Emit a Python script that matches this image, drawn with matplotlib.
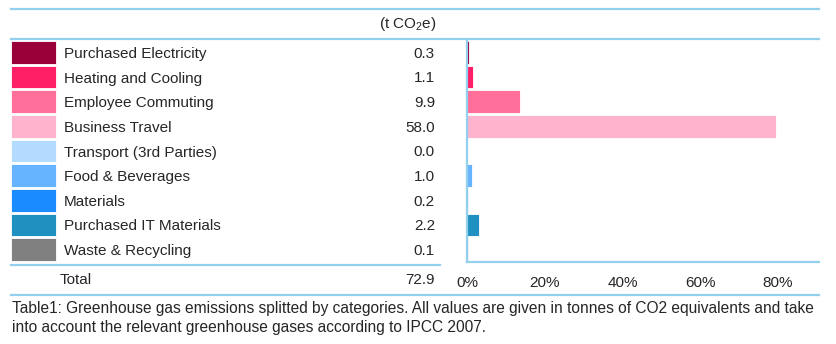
import matplotlib.pyplot as plt
import matplotlib as mpl

mpl.rcParams.update({
    "font.family": ["Liberation Sans", "DejaVu Sans"],
    "font.size": 11,
    "mathtext.default": "regular",
})

categories = ["Purchased Electricity", "Heating and Cooling", "Employee Commuting",
              "Business Travel", "Transport (3rd Parties)", "Food & Beverages",
              "Materials", "Purchased IT Materials", "Waste & Recycling"]
emissions = [0.3, 1.1, 9.9, 58.0, 0.0, 1.0, 0.2, 2.2, 0.1]
total = 72.9
colors = ["#99003A", "#FF1F66", "#FF6F99", "#FFB3CC", "#B3DAFF",
          "#66B3FF", "#1A8CFF", "#2090C0", "#808080"]
pct_ticks = [0, 0.2, 0.4, 0.6, 0.8]
caption = ("Table1: Greenhouse gas emissions splitted by categories. All values are given in "
           "tonnes of CO2 equivalents and take\ninto account the relevant greenhouse gases "
           "according to IPCC 2007.")

LINE = "#92D0EE"
TXT = "#262626"
W, H = 836, 344

fig = plt.figure(figsize=(W / 100, H / 100), dpi=100)

# background axes in pixel coordinates for the table part
bg = fig.add_axes([0, 0, 1, 1])
bg.set_xlim(0, W)
bg.set_ylim(H, 0)
bg.axis("off")

top, bottom = 40, 262
n = len(categories)
step = (bottom - top) / n
rows = [top + step * (i + 0.5) for i in range(n)]

bg.barh(rows, 45, left=11, height=step - 2, color=colors, edgecolor="white", linewidth=0.6)
for y, name, v in zip(rows, categories, emissions):
    bg.text(64, y + 1.5, name, va="center", ha="left", color=TXT)
    bg.text(435, y + 1.5, f"{v:.1f}", va="center", ha="right", color=TXT)

bg.text(408, 24, r"(t CO$_2$e)", va="center", ha="center", color=TXT)
bg.text(60, 280, "Total", va="center", ha="left", color=TXT)
bg.text(435, 280, f"{total:.1f}", va="center", ha="right", color=TXT)

# rules
bg.plot([11, 819], [9, 9], color=LINE, lw=1.6)
bg.plot([11, 819], [39, 39], color=LINE, lw=1.6)
bg.plot([11, 440], [265, 265], color=LINE, lw=1.6)
bg.plot([11, 819], [295, 295], color=LINE, lw=1.6)

bg.text(12, 318, caption, va="center", ha="left", color=TXT, fontsize=11.2,
        family=["Liberation Sans Narrow", "Liberation Sans"], linespacing=1.4)

# bar chart of shares
ax = fig.add_axes([467 / W, (H - bottom) / H, (819 - 467) / W, (bottom - top) / H])
shares = [v / total for v in emissions]
ax.barh(range(n), shares, height=0.93, color=colors, edgecolor="white", linewidth=0.6)
ax.set_ylim(n - 0.5, -0.5)
ax.set_xlim(0, 352 / 3.8875 / 100)
ax.set_xticks(pct_ticks)
ax.set_xticklabels([f"{int(t * 100)}%" for t in pct_ticks], color=TXT, fontsize=11)
ax.set_yticks([])
ax.tick_params(axis="x", length=0, pad=10)
for s in ["top", "right"]:
    ax.spines[s].set_visible(False)
for s in ["left", "bottom"]:
    ax.spines[s].set_color(LINE)
    ax.spines[s].set_linewidth(1.6)
ax.patch.set_alpha(0)

fig.savefig("out.png", dpi=100, facecolor="white")
